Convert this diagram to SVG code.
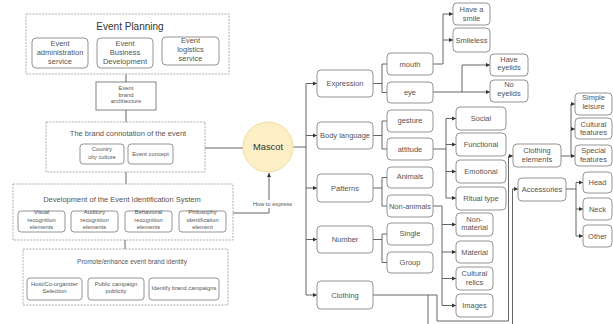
<svg xmlns="http://www.w3.org/2000/svg" width="613" height="324" viewBox="0 0 613 324">
<defs>
<marker id="ar" markerUnits="userSpaceOnUse" markerWidth="5" markerHeight="5" refX="4" refY="2.5" orient="auto"><path d="M0,0.5 L4,2.5 L0,4.5 Z" fill="#333"/></marker>
</defs>
<style>
text{font-family:"Liberation Sans",Arial,sans-serif;fill:#555;text-anchor:middle}
.dash{fill:#fff;stroke:#999;stroke-width:0.8;stroke-dasharray:2 1.2}
.b{fill:#fff;stroke:#888;stroke-width:0.9}
.sq{fill:#fff;stroke:#666;stroke-width:0.8}
.c{fill:none;stroke:#555;stroke-width:0.9}
.a{marker-end:url(#ar)}
.t10{font-size:10px;fill:#333}
.t75{font-size:7.5px}
.t65{font-size:6.5px}
.t6{font-size:5.8px}
</style>
<g id="connectors">
<path class="c" d="M126,74 V82 M126,110 V122 M126,172 V184 M125,240 V249 M205,148 H243"/>
<path class="c a" d="M233,213 H269 V173"/>
<path class="c" d="M293,147 H306 M306,83.5 V295"/>
<path class="c a" d="M306,83.5 H317"/>
<path class="c a" d="M306,135.5 H317"/>
<path class="c a" d="M306,188 H317"/>
<path class="c a" d="M306,239.5 H317"/>
<path class="c a" d="M306,295 H317"/>
<path class="c" d="M373,83.5 H382 M382,64 V92.5 M382,64 H387 M382,92.5 H387"/>
<path class="c" d="M373,135.5 H382 M382,121 V149 M382,121 H387 M382,149 H387"/>
<path class="c" d="M373,188 H382 M382,177.5 V206 M382,177.5 H387 M382,206 H387"/>
<path class="c" d="M373,239.5 H382 M382,234 V262.5 M382,234 H387 M382,262.5 H387"/>
<path class="c a" d="M433,64 H443 V14 H453"/>
<path class="c a" d="M443,40 H453"/>
<path class="c a" d="M433,92 H490"/>
<path class="c a" d="M462,92 V65 H490"/>
<path class="c" d="M433,149 H446 M446,118.5 V198"/>
<path class="c a" d="M446,118.5 H456"/>
<path class="c a" d="M446,144.5 H456"/>
<path class="c a" d="M446,171.5 H456"/>
<path class="c a" d="M446,198 H456"/>
<path class="c" d="M433,206 H442 V305.5"/>
<path class="c a" d="M442,224.5 H456"/>
<path class="c a" d="M442,252 H456"/>
<path class="c a" d="M442,278.5 H456"/>
<path class="c a" d="M442,305.5 H456"/>
<path class="c" d="M373,295 H437 M428,295 V324"/>
<path class="c a" d="M437,295 V321 H508.5 V156 H513"/>
<path class="c a" d="M512.5,324 V189 H518"/>
<path class="c" d="M561,156 H571 M571,104 V156"/>
<path class="c a" d="M571,104 H575"/>
<path class="c a" d="M571,129 H575"/>
<path class="c a" d="M571,156 H575"/>
<path class="c" d="M566,189 H576 M576,182.5 V236"/>
<path class="c a" d="M576,182.5 H583"/>
<path class="c a" d="M576,209 H583"/>
<path class="c a" d="M576,236 H583"/>
</g>
<g id="event-planning">
<rect class="dash" x="26" y="14" width="203" height="60"/>
<text class="t10" x="130" y="29.5">Event Planning</text>
</g>
<g id="ep-admin"><rect class="b" x="32" y="38" width="56" height="30" rx="4"/>
<text class="t75" x="60" y="45.5">Event</text><text class="t75" x="60" y="54.5">administration</text><text class="t75" x="60" y="63.5">service</text></g>
<g id="ep-business"><rect class="b" x="97" y="38" width="56" height="30" rx="4"/>
<text class="t75" x="125" y="45.5">Event</text><text class="t75" x="125" y="54.5">Business</text><text class="t75" x="125" y="63.5">Development</text></g>
<g id="ep-logistics"><rect class="b" x="162" y="37" width="57" height="28" rx="4"/>
<text class="t75" x="190.5" y="42.5">Event</text><text class="t75" x="190.5" y="51.5">logistics</text><text class="t75" x="190.5" y="60.5">service</text></g>
<g id="brand-arch"><rect class="sq" x="96" y="82" width="60" height="28"/>
<text class="t6" x="126" y="90">Event</text><text class="t6" x="126" y="96.6">brand</text><text class="t6" x="126" y="103.2">architecture</text></g>
<g id="connotation"><rect class="dash" x="46" y="122" width="159" height="50"/>
<text class="t75" x="128" y="135.6">The brand connotation of the event</text></g>
<g id="country"><rect class="b" x="80" y="144" width="44" height="20" rx="3"/>
<text class="t6" x="102" y="151">Country</text><text class="t6" x="102" y="159">city culture</text></g>
<g id="concept"><rect class="b" x="128" y="144" width="45" height="20" rx="3"/>
<text class="t6" x="150.5" y="156">Event concept</text></g>
<g id="development"><rect class="dash" x="13" y="184" width="220" height="56"/>
<text class="t75" x="122" y="201.6">Development of the Event Identification System</text></g>
<g id="visual"><rect class="b" x="18" y="211" width="47" height="21" rx="3"/>
<text class="t6" x="41.5" y="214">Visual</text><text class="t6" x="41.5" y="221.5">recognition</text><text class="t6" x="41.5" y="229">elements</text></g>
<g id="auditory"><rect class="b" x="71" y="211" width="47" height="21" rx="3"/>
<text class="t6" x="94.5" y="214">Auditory</text><text class="t6" x="94.5" y="221.5">recognition</text><text class="t6" x="94.5" y="229">elements</text></g>
<g id="behavioral"><rect class="b" x="125" y="211" width="47" height="21" rx="3"/>
<text class="t6" x="148.5" y="214">Behavioral</text><text class="t6" x="148.5" y="221.5">recognition</text><text class="t6" x="148.5" y="229">elements</text></g>
<g id="philosophy"><rect class="b" x="179" y="211" width="47" height="21" rx="3"/>
<text class="t6" x="202.5" y="214">Philosophy</text><text class="t6" x="202.5" y="221.5">identification</text><text class="t6" x="202.5" y="229">element</text></g>
<g id="promote"><rect class="dash" x="23" y="249" width="205" height="56"/>
<text class="t65" x="132" y="264.3">Promote/enhance event brand identity</text></g>
<g id="host"><rect class="b" x="27" y="278" width="55" height="22" rx="3"/>
<text class="t6" x="54.5" y="286.3">Host/Co-organizer</text><text class="t6" x="54.5" y="292.9">Selection</text></g>
<g id="public"><rect class="b" x="88" y="278" width="56" height="22" rx="3"/>
<text class="t6" x="116" y="286.3">Public campaign</text><text class="t6" x="116" y="293">publicity</text></g>
<g id="identify"><rect class="b" x="149" y="278" width="70" height="22" rx="3"/>
<text class="t6" x="184" y="290.3">Identify brand campaigns</text></g>
<g id="how-label"><rect x="253" y="200" width="39" height="8" fill="#fff"/>
<text style="font-size:5.7px" x="272.5" y="206">How to express</text></g>
<g id="mascot"><circle cx="268" cy="147" r="25" fill="#fcefc6" stroke="#f1dc9c" stroke-width="1"/>
<text style="font-size:9.3px;fill:#333" x="268" y="150.3">Mascot</text></g>
<g id="expression"><rect class="b" x="317" y="70" width="56" height="27" rx="4"/><text class="t75" x="345" y="86.2">Expression</text></g>
<g id="body"><rect class="b" x="317" y="122" width="56" height="27" rx="4"/><text class="t75" x="345" y="138.2">Body language</text></g>
<g id="patterns"><rect class="b" x="317" y="174" width="56" height="28" rx="4"/><text class="t75" x="345" y="190.7">Patterns</text></g>
<g id="number"><rect class="b" x="317" y="226" width="56" height="27" rx="4"/><text class="t75" x="345" y="242.2">Number</text></g>
<g id="clothing"><rect class="b" x="317" y="281" width="56" height="28" rx="4"/><text class="t75" x="345" y="297.7">Clothing</text></g>
<g id="mouth"><rect class="b" x="387" y="53" width="46" height="22" rx="4"/><text class="t75" x="410" y="66.6">mouth</text></g>
<g id="eye"><rect class="b" x="387" y="82" width="46" height="21" rx="4"/><text class="t75" x="410" y="95.1">eye</text></g>
<g id="gesture"><rect class="b" x="387" y="110" width="46" height="22" rx="4"/><text class="t75" x="410" y="122.6">gesture</text></g>
<g id="attitude"><rect class="b" x="387" y="138" width="46" height="22" rx="4"/><text class="t75" x="410" y="151.6">attitude</text></g>
<g id="animals"><rect class="b" x="387" y="167" width="46" height="21" rx="4"/><text class="t75" x="410" y="178.6">Animals</text></g>
<g id="non-animals"><rect class="b" x="387" y="195" width="46" height="22" rx="4"/><text class="t75" x="410" y="208.6">Non-animals</text></g>
<g id="single"><rect class="b" x="387" y="223" width="46" height="22" rx="4"/><text class="t75" x="410" y="235.6">Single</text></g>
<g id="group"><rect class="b" x="387" y="252" width="46" height="21" rx="4"/><text class="t75" x="410" y="264.6">Group</text></g>
<g id="smile"><rect class="b" x="453" y="3" width="37" height="22" rx="4"/><text class="t75" x="471.5" y="11.8">Have a</text><text class="t75" x="471.5" y="20.6">smile</text></g>
<g id="smileless"><rect class="b" x="453" y="28" width="37" height="24" rx="4"/><text class="t75" x="471.5" y="42.6">Smileless</text></g>
<g id="have-eyelids"><rect class="b" x="490" y="54" width="38" height="22" rx="4"/><text class="t75" x="509" y="61.6">Have</text><text class="t75" x="509" y="70">eyelids</text></g>
<g id="no-eyelids"><rect class="b" x="490" y="80" width="38" height="22" rx="4"/><text class="t75" x="509" y="87.4">No</text><text class="t75" x="509" y="95.8">eyelids</text></g>
<g id="social"><rect class="b" x="456" y="107" width="50" height="23" rx="4"/><text class="t75" x="481" y="121">Social</text></g>
<g id="functional"><rect class="b" x="456" y="133" width="50" height="23" rx="4"/><text class="t75" x="481" y="147">Functional</text></g>
<g id="emotional"><rect class="b" x="456" y="160" width="50" height="23" rx="4"/><text class="t75" x="481" y="174">Emotional</text></g>
<g id="ritual"><rect class="b" x="456" y="187" width="50" height="23" rx="4"/><text class="t75" x="481" y="201">Ritual type</text></g>
<g id="non-material"><rect class="b" x="456" y="213" width="37" height="23" rx="4"/><text class="t75" x="474.5" y="221.8">Non-</text><text class="t75" x="474.5" y="230.4">material</text></g>
<g id="material"><rect class="b" x="456" y="241" width="37" height="22" rx="4"/><text class="t75" x="474.5" y="254.6">Material</text></g>
<g id="relics"><rect class="b" x="456" y="267" width="37" height="23" rx="4"/><text class="t75" x="474.5" y="276.2">Cultural</text><text class="t75" x="474.5" y="284.8">relics</text></g>
<g id="images"><rect class="b" x="456" y="294" width="37" height="23" rx="4"/><text class="t75" x="474.5" y="308">Images</text></g>
<g id="clothing-elements"><rect class="b" x="513" y="144" width="48" height="23" rx="4"/><text class="t75" x="537" y="153.2">Clothing</text><text class="t75" x="537" y="161.8">elements</text></g>
<g id="accessories"><rect class="b" x="518" y="178" width="48" height="23" rx="4"/><text class="t75" x="542" y="192">Accessories</text></g>
<g id="simple"><rect class="b" x="575" y="93" width="37" height="22" rx="4"/><text class="t75" x="593.5" y="100">Simple</text><text class="t75" x="593.5" y="108.6">leisure</text></g>
<g id="cultural-features"><rect class="b" x="575" y="118" width="37" height="21" rx="4"/><text class="t75" x="593.5" y="126.6">Cultural</text><text class="t75" x="593.5" y="135.2">features</text></g>
<g id="special-features"><rect class="b" x="575" y="145" width="37" height="21" rx="4"/><text class="t75" x="593.5" y="153.4">Special</text><text class="t75" x="593.5" y="162">features</text></g>
<g id="head"><rect class="b" x="583" y="172" width="29" height="21" rx="4"/><text class="t75" x="597.5" y="185">Head</text></g>
<g id="neck"><rect class="b" x="583" y="198" width="29" height="22" rx="4"/><text class="t75" x="597.5" y="211.6">Neck</text></g>
<g id="other"><rect class="b" x="583" y="225" width="29" height="22" rx="4"/><text class="t75" x="597.5" y="238.6">Other</text></g>
</svg>
